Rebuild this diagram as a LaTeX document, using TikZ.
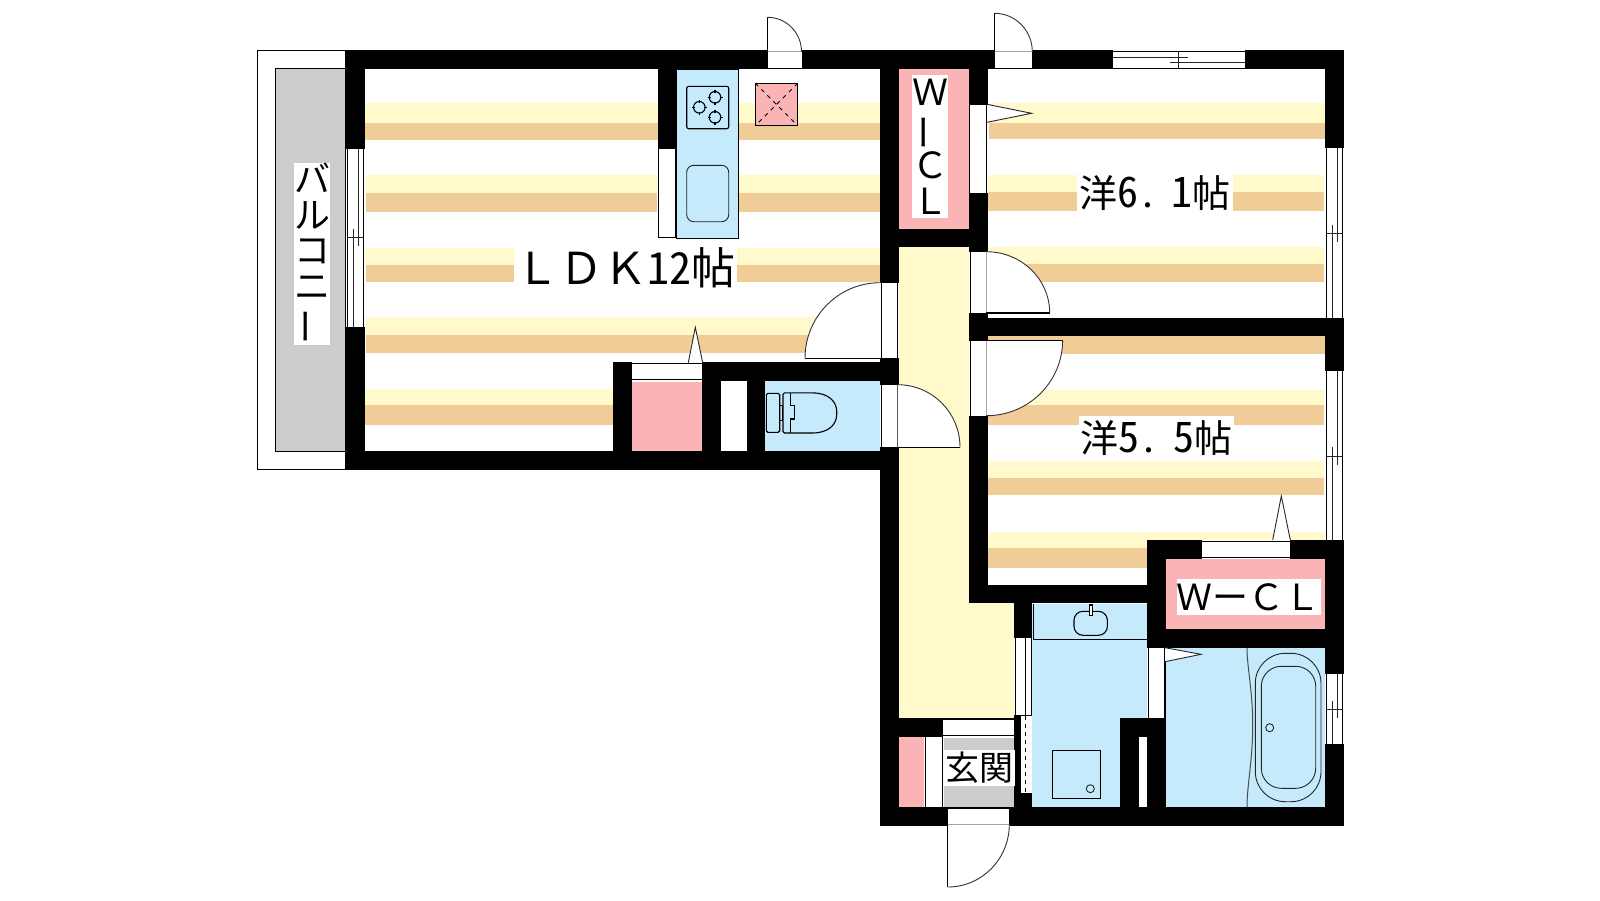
\documentclass[tikz,border=0pt]{standalone}
\usepackage{fontspec}
\setmainfont{Noto Sans CJK JP}
\newfontfamily\jpf{Noto Sans CJK JP}
\newfontfamily\jph[RawFeature=+hwid,WordSpace=0.45]{Noto Sans CJK JP}
\definecolor{pale}{HTML}{FFF9CC}
\definecolor{wood}{HTML}{F0CD96}
\definecolor{wetblue}{HTML}{C4EAFB}
\definecolor{closet}{HTML}{FAB4B5}
\definecolor{floorgrey}{HTML}{CCCCCC}
\tikzset{
  wallfill/.style={fill=black,draw=none},
  gapfill/.style={fill=white,draw=none},
  thinline/.style={draw=black,line width=1.1pt},
  finline/.style={draw=black!85,line width=0.9pt},
  doorleaf/.style={fill=white,draw=none},
  arcline/.style={draw=black!80,line width=0.9pt},
  label/.style={fill=white,inner sep=0pt,text=black,align=center,anchor=center},
  tall/.style={label,node font=\fontsize{36}{35.5}\selectfont\jpf},
}
\newcommand{\qarc}[6]{({#1+(#3)},{#2+(#4)}) .. controls ({#1+(#3)+.5523*(#5)},{#2+(#4)+.5523*(#6)}) and ({#1+(#5)+.5523*(#3)},{#2+(#6)+.5523*(#4)}) .. ({#1+(#5)},{#2+(#6)})}
\newcommand{\stripe}[5]{\fill[pale] (#1,#3) rectangle (#2,#4); \fill[wood] (#1,#4) rectangle (#2,#5);}
\newcommand{\vwin}[4]{
  \fill[gapfill] (#1,#2) rectangle ({#1+19},#3);
  \draw[thinline] ({#1+1.2},#2) -- ({#1+1.2},#3) ({#1+17.3},#2) -- ({#1+17.3},#3);
  \draw[finline] ({#1+12.1},#2) -- ({#1+12.1},{#4+8.7}) ({#1+7},{#4-8.7}) -- ({#1+7},#3) ({#1+1.2},#4) -- ({#1+17.3},#4);
}
\newcommand{\burner}[2]{
  \draw[thinline] (#1,#2) circle[radius=5.8pt];
  \draw[thinline] ({#1-7.5},#2) -- ({#1-4.5},#2) ({#1+4.5},#2) -- ({#1+7.5},#2) (#1,{#2-7.5}) -- (#1,{#2-4.5}) (#1,{#2+4.5}) -- (#1,{#2+7.5});
}
\newcommand{\vbar}{\rotatebox[origin=c]{90}{ー}}
\newcommand{\dg}[1]{{\fontsize{42}{42}\selectfont #1}}
\begin{document}
\begin{tikzpicture}[x=1pt,y=-1pt]
\useasboundingbox (0,0) rectangle (1600,900);
\fill[white] (0,0) rectangle (1600,900);
% balcony
\draw[thinline,fill=white] (257.5,50.5) rectangle (346,469.5);
\draw[thinline,fill=floorgrey] (275.4,68.5) rectangle (346,451.5);
% LDK flooring
\stripe{365}{658}{103}{123}{139.7}
\stripe{738}{880}{103}{123}{139.7}
\stripe{366}{657}{175}{193}{211.7}
\stripe{738}{880}{175}{193}{211.7}
\stripe{366}{880}{248}{265}{282}
\stripe{366}{880}{317}{335}{353}
\stripe{365}{613}{389}{405}{425}
% room 6.1 flooring
\stripe{989}{1325}{103}{123}{139}
\stripe{988}{1324}{175}{192}{211}
\stripe{988}{1324}{247}{264}{282.3}
% room 5.5 flooring
\fill[wood] (988,335) rectangle (1325,353.7);
\stripe{988}{1324}{390}{405}{425}
\stripe{988}{1324}{461}{478}{495}
\fill[pale] (988,532) rectangle (1325,548);
\fill[wood] (988,548) rectangle (1147,567.7);
% corridor
\fill[pale] (899,247) rectangle (969,603);
\fill[pale] (899,603) rectangle (1014,717.7);
% wet areas
\fill[wetblue] (765,381) rectangle (880,451);
\fill[wetblue] (1032,604) rectangle (1147,807);
\fill[wetblue] (1166,647) rectangle (1325,807);
% closets
\fill[closet] (632,382) rectangle (702,451);
\fill[closet] (899,69) rectangle (969,229);
\fill[closet] (1166,559) rectangle (1325,629);
\fill[closet] (899,736) rectangle (924,807);
\fill[floorgrey] (944,738) rectangle (1014,807);
% kitchen
\draw[thinline,fill=wetblue] (676.3,69.5) rectangle (738.3,238.3);
\draw[thinline,fill=white] (658.3,148.7) rectangle (676,237.3);
\draw[thinline,rounded corners=2pt] (686.7,86.3) rectangle (728.7,128.7);
\burner{699.3}{107.3}
\burner{715}{97.3}
\burner{715}{117.3}
\draw[finline,rounded corners=7pt] (686.7,165.3) rectangle (728.7,221.7);
% vent
\draw[thinline,fill=closet] (755.3,83.3) rectangle (797.7,125.7);
\draw[black,line width=1pt,dash pattern=on 4pt off 4.5pt] (755.3,83.3) -- (797.7,125.7) (797.7,83.3) -- (755.3,125.7);
% walls
\fill[wallfill] (346,50) rectangle (1344,69);
\fill[wallfill] (346,50) rectangle (365,149);
\fill[wallfill] (346,326.7) rectangle (365,470);
\fill[wallfill] (346,451) rectangle (880,470);
\fill[wallfill] (658.3,69) rectangle (677,148.7);
\fill[wallfill] (613,362) rectangle (632,451);
\fill[wallfill] (702,362) rectangle (720.7,451);
\fill[wallfill] (702,362) rectangle (880,381);
\fill[wallfill] (747,381) rectangle (765,451);
\fill[wallfill] (880,50) rectangle (899,826);
\fill[wallfill] (969,50) rectangle (988,251.7);
\fill[wallfill] (899,229) rectangle (988,247);
\fill[wallfill] (969,313) rectangle (988,340.7);
\fill[wallfill] (969,318) rectangle (1344,335.7);
\fill[wallfill] (969,415.7) rectangle (988,603);
\fill[wallfill] (969,585) rectangle (1147,603);
\fill[wallfill] (1325,50) rectangle (1344,148.3);
\fill[wallfill] (1325,318) rectangle (1344,371.3);
\fill[wallfill] (1325,540) rectangle (1344,673.7);
\fill[wallfill] (1325,744) rectangle (1344,826);
\fill[wallfill] (1147,540) rectangle (1344,559);
\fill[wallfill] (1147,540) rectangle (1166,647.7);
\fill[wallfill] (1147,629) rectangle (1344,647.7);
\fill[wallfill] (1014,585) rectangle (1032,637.7);
\fill[wallfill] (1014,715) rectangle (1032,807);
\fill[wallfill] (1120,718) rectangle (1166,737);
\fill[wallfill] (1120,718) rectangle (1139,807);
\fill[wallfill] (1147,718) rectangle (1166,807);
\fill[wallfill] (880,718.3) rectangle (942.7,736.7);
\fill[wallfill] (880,807) rectangle (1344,825.7);
% windows
\vwin{346}{149}{326.7}{237.5}
\vwin{1325}{148.3}{318}{233.3}
\vwin{1325}{371.3}{540}{456}
\vwin{1325}{673.7}{744}{709.3}
% top window
\fill[gapfill] (1112.6,50) rectangle (1245,69);
\draw[thinline] (1112.6,51.3) -- (1245,51.3) (1112.6,68.2) -- (1245,68.2);
\draw[finline] (1112.6,57.3) -- (1187.7,57.3) (1170.3,62.3) -- (1245,62.3) (1178.8,51.3) -- (1178.8,68.2);
% door openings
\fill[gapfill] (767.5,50) rectangle (801.5,69);
\draw[thinline] (767.5,51.7) -- (801.5,51.7) (767.5,68.2) -- (801.5,68.2);
\fill[gapfill] (994.6,50) rectangle (1032.3,69);
\draw[thinline] (994.6,51.7) -- (1032.3,51.7) (994.6,68.2) -- (1032.3,68.2);
\fill[gapfill] (880,282.7) rectangle (899,358.3);
\draw[thinline] (881.7,282.7) -- (881.7,358.3) (897.7,282.7) -- (897.7,358.3);
\fill[gapfill] (880,384.7) rectangle (899,447.3);
\draw[thinline] (881.7,384.7) -- (881.7,447.3) (897.7,384.7) -- (897.7,447.3);
\fill[gapfill] (969.5,105) rectangle (988,193);
\draw[thinline] (969.5,105) -- (969.5,193) (986.4,105) -- (986.4,193);
\fill[gapfill] (969.5,251.7) rectangle (988,313);
\draw[thinline] (970.5,251.7) -- (970.5,313) (986.4,251.7) -- (986.4,313);
\fill[gapfill] (969.5,340.7) rectangle (988,415.7);
\draw[thinline] (970.5,340.7) -- (970.5,415.7) (986.4,340.7) -- (986.4,415.7);
\fill[gapfill] (632,362) rectangle (702,381.5);
\draw[thinline] (632,363.3) -- (702,363.3) (632,379.3) -- (702,379.3);
\fill[gapfill] (720.7,381) rectangle (747,451);
\fill[gapfill] (1202,540) rectangle (1290,559);
\draw[thinline] (1202,541.3) -- (1290,541.3) (1202,557.3) -- (1290,557.3);
\fill[gapfill] (1147.5,647.7) rectangle (1166,718);
\draw[thinline] (1148.2,647.7) -- (1148.2,718) (1165,647.7) -- (1165,718);
\fill[gapfill] (942.7,718.3) rectangle (1014,736);
\draw[thinline] (942.7,719) -- (1014,719) (942.7,735.3) -- (1014,735.3);
\fill[gapfill] (924,736.7) rectangle (943.5,807);
\draw[thinline] (925.3,736.7) -- (925.3,807) (942.3,736.7) -- (942.3,807);
\fill[gapfill] (948,807) rectangle (1009,825.7);
\draw[thinline] (948,808) -- (1009,808) (948,824.3) -- (1009,824.3);
\fill[gapfill] (1014.7,637.7) rectangle (1032,715);
\draw[thinline] (1015.5,637.7) -- (1015.5,715) (1025.7,637.7) -- (1025.7,715) (1031.5,637.7) -- (1031.5,715);
\fill[gapfill] (1021,715.7) rectangle (1032,792.7);
\draw[black,line width=1pt,dash pattern=on 4pt off 4pt] (1025.7,716) -- (1025.7,792);
\fill[gapfill] (1139,737) rectangle (1147,807);
% doors
\fill[doorleaf] (767.5,51.7) -- \qarc{767.5}{51.7}{0}{-34.4}{34}{0} -- cycle;
\draw[thinline] (767.5,17.3) -- (767.5,51.7);
\draw[arcline] \qarc{767.5}{51.7}{0}{-34.4}{34}{0};
\fill[doorleaf] (994.6,51.7) -- \qarc{994.6}{51.7}{0}{-38.4}{37.7}{0} -- cycle;
\draw[thinline] (994.6,13.3) -- (994.6,51.7);
\draw[arcline] \qarc{994.6}{51.7}{0}{-38.4}{37.7}{0};
\fill[doorleaf] (880,358.3) -- \qarc{880}{358.3}{0}{-75.6}{-75}{0} -- cycle;
\draw[thinline] (805,358.3) -- (880,358.3);
\draw[arcline] \qarc{880}{358.3}{0}{-75.6}{-75}{0};
\fill[doorleaf] (897.7,447.3) -- \qarc{897.7}{447.3}{0}{-62.6}{62.3}{0} -- cycle;
\draw[thinline] (897.7,447.3) -- (960,447.3);
\draw[arcline] \qarc{897.7}{447.3}{0}{-62.6}{62.3}{0};
\fill[doorleaf] (986.4,313) -- \qarc{986.4}{313}{0}{-61.3}{63.3}{0} -- cycle;
\draw[thinline] (986.4,313) -- (1049.7,313);
\draw[arcline] \qarc{986.4}{313}{0}{-61.3}{63.3}{0};
\fill[doorleaf] (986.4,340.3) -- \qarc{986.4}{340.3}{76.2}{0}{0}{75.4} -- cycle;
\draw[thinline] (986.4,340.3) -- (1062.6,340.3);
\draw[arcline] \qarc{986.4}{340.3}{76.2}{0}{0}{75.4};
\fill[doorleaf] (947.8,824.3) -- \qarc{947.8}{824.3}{0}{62.7}{61.5}{0} -- cycle;
\draw[thinline] (947.8,824.3) -- (947.8,887);
\draw[arcline] \qarc{947.8}{824.3}{0}{62.7}{61.5}{0};
% door swing marks
\draw[finline,fill=white] (688.3,362.7) -- (695.3,327.3) -- (702.7,362.7);
\draw[finline,fill=white] (987,104.3) -- (1031.6,113.3) -- (987,122.3);
\draw[finline,fill=white] (1272.7,540) -- (1281.3,496) -- (1290.3,540);
\draw[finline,fill=white] (1165,647.7) -- (1201,654.3) -- (1165,661.7);
% toilet
\draw[thinline,rounded corners=1.5pt] (766.3,393.3) rectangle (779.7,432.3);
\draw[thinline] (779.7,405.3) rectangle (782.7,420.7);
\draw[thinline,rounded corners=1.5pt] (783,433) -- (783,392.9) -- (811,392.9) .. controls (829,392.9) and (836.7,402) .. (836.7,413) .. controls (836.7,424) and (829,433) .. (811,433) -- cycle;
\draw[thinline] (790.7,393) -- (790.7,405.7) -- (794.7,405.7) -- (794.7,419) -- (790.7,419) -- (790.7,433);
% washroom
\draw[thinline] (1033.3,604) -- (1033.3,639.3) -- (1147,639.3);
\draw[thinline,rounded corners=9pt] (1074,611.3) rectangle (1107.4,635.3);
\draw[thinline,fill=white] (1089.3,605) rectangle (1092.7,615.7);
\draw[thinline] (1052.3,750.3) rectangle (1100.7,798.7);
\draw[finline] (1090.3,788.7) circle[radius=4pt];
% bath
\draw[black!70,line width=1pt] (1247,647.7) .. controls (1247,668) and (1252.7,690) .. (1252.7,725) .. controls (1252.7,760) and (1247,785) .. (1247,807);
\draw[finline,rounded corners=30pt] (1255.3,653.3) rectangle (1321,801.7);
\draw[finline,rounded corners=20pt] (1261.3,666.3) rectangle (1315.7,788.3);
\draw[finline] (1269.7,727.7) circle[radius=4pt];
% labels
\node[label,minimum width=223pt,minimum height=45pt] (ldk) at (625.5,267.5) {\fontsize{44}{44}\selectfont\jpf ＬＤＫ{\jph 12}帖};
\node[label,minimum width=156pt,minimum height=40pt] (yo61) at (1155,193) {\fontsize{38}{38}\selectfont\jph 洋\dg{6}. \dg{1}帖};
\node[label,minimum width=155pt,minimum height=45pt] (yo55) at (1156.5,438.5) {\fontsize{38}{38}\selectfont\jph 洋\dg{5}. \dg{5}帖};
\node[tall,minimum width=36pt,minimum height=178pt] (balcony) at (312,254) {バ\\ル\\コ\\ニ\\\vbar};
\node[tall,minimum width=36pt,minimum height=143pt] (wic1) at (930,146.5) {Ｗ\\\vbar\\Ｃ\\Ｌ};
\node[label,minimum width=143pt,minimum height=36pt] (wic2) at (1248.5,597) {\fontsize{36}{36}\selectfont\jpf ＷーＣＬ};
\node[label,minimum width=71pt,minimum height=36pt] (genkan) at (979.5,768) {\fontsize{34}{34}\selectfont\jpf 玄関};
\end{tikzpicture}
\end{document}
